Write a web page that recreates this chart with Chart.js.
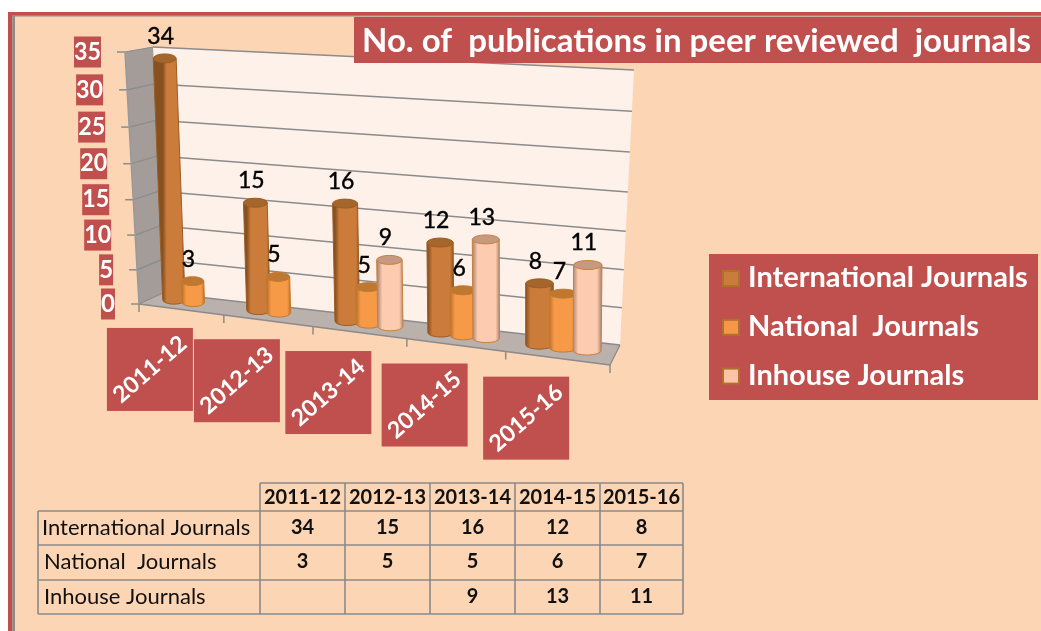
<!DOCTYPE html>
<html><head><meta charset="utf-8">
<style>html,body{margin:0;padding:0;background:#fff;overflow:hidden}canvas{display:block}</style>
<script src="https://cdn.jsdelivr.net/npm/chart.js@4"></script>
</head><body><canvas id="c" width="1041" height="631"></canvas>
<script>
const categories = ["2011-12","2012-13","2013-14","2014-15","2015-16"];
const international = [34,15,16,12,8];
const national = [3,5,5,6,7];
const inhouse = [null,null,9,13,11];
const seriesNames = ["International Journals","National  Journals","Inhouse Journals"];
const titleText = "No. of  publications in peer reviewed  journals";
const yMax = 35, yStep = 5;

const RED="#C0504D", PEACH="#FCD5B5", GRID="#8b8b8b";
const looks=[
 {edge:"#87501f",mid:"#CC7C3A",cap:"#A5662B",line:"#9c5c24",sw:"#C97D3C"},
 {edge:"#bd7028",mid:"#F79A48",cap:"#BF7830",line:"#c47a30",sw:"#F79646"},
 {edge:"#b08a74",mid:"#FDCBB0",cap:"#C69A82",line:"#C8803C",sw:"#FBC4A6"}
];
function quad(p00,p10,p11,p01){
  const [x0,y0]=p00,[x1,y1]=p10,[x2,y2]=p11,[x3,y3]=p01;
  const sx=x0-x1+x2-x3, sy=y0-y1+y2-y3, dx1=x1-x2, dx2=x3-x2, dy1=y1-y2, dy2=y3-y2;
  const d=dx1*dy2-dx2*dy1, g=(sx*dy2-dx2*sy)/d, h=(dx1*sy-sx*dy1)/d;
  const a=x1-x0+g*x1,b=x3-x0+h*x3,e=y1-y0+g*y1,f=y3-y0+h*y3;
  return (u,v)=>{const w=g*u+h*v+1;return [(a*u+b*v+x0)/w,(e*u+f*v+y0)/w];};
}
const lerp=(a,b,t)=>[a[0]+(b[0]-a[0])*t,a[1]+(b[1]-a[1])*t];
const barPlane=quad([152,297],[615,354],[618,74],[142,50]);
const FL=[139,304],FT=[125,52],BL=[163,293],BT=[153,47],RB=[620,345],RT=[634,70],FR=[610,365];
const warp=v=>v-0.06*v*(1-v);
const C=-0.121;
const front=u=>lerp(FL,FR,u*(1+C)/(1+C*u));

const rr=(ctx,x,y,w,h)=>{ctx.fillStyle=RED;ctx.fillRect(x,y,w,h);};
function poly(ctx,pts,fill){ctx.beginPath();pts.forEach((p,i)=>i?ctx.lineTo(p[0],p[1]):ctx.moveTo(p[0],p[1]));ctx.closePath();ctx.fillStyle=fill;ctx.fill();}
function seg(ctx,a,b,col,w){ctx.strokeStyle=col;ctx.lineWidth=w;ctx.beginPath();ctx.moveTo(a[0],a[1]);ctx.lineTo(b[0],b[1]);ctx.stroke();}
function uv(chart,x,y){const A=chart.chartArea;return [(x-A.left)/(A.right-A.left),(A.bottom-y)/(A.bottom-A.top)];}

function cylinder(ctx,chart,el,look){
  const [ul,vt]=uv(chart,el.x-el.width/2,el.y), [ur,vb]=uv(chart,el.x+el.width/2,el.base);
  const um=(ul+ur)/2;
  const tl=barPlane(ul,vt),tr=barPlane(ur,vt),bl=barPlane(ul,vb),br=barPlane(ur,vb);
  const rxT=(tr[0]-tl[0])/2, rxB=(br[0]-bl[0])/2, ry=4.5;
  const tc=barPlane(um,vt), bc=barPlane(um,vb);
  const g=ctx.createLinearGradient(bl[0],0,br[0],0);
  g.addColorStop(0,look.edge);g.addColorStop(.18,look.mid);g.addColorStop(.55,look.mid);g.addColorStop(.85,look.mid);g.addColorStop(1,look.edge);
  ctx.beginPath();
  ctx.moveTo(tc[0]-rxT,tc[1]);
  ctx.lineTo(bc[0]-rxB,bc[1]);
  ctx.ellipse(bc[0],bc[1],rxB,ry,0,Math.PI,0,true);
  ctx.lineTo(tc[0]+rxT,tc[1]);
  ctx.closePath();
  ctx.fillStyle=g;ctx.fill();ctx.strokeStyle=look.line;ctx.lineWidth=1;ctx.stroke();
  ctx.beginPath();ctx.ellipse(tc[0],tc[1],rxT,ry,0,0,Math.PI*2);
  ctx.fillStyle=look.cap;ctx.fill();ctx.strokeStyle=look.line;ctx.stroke();
  return tc;
}

const scene={
  id:"scene",
  beforeDraw(chart){
    const ctx=chart.ctx,W=chart.width,H=chart.height;
    ctx.save();
    ctx.fillStyle="#fff";ctx.fillRect(0,0,W,H);
    ctx.fillStyle=PEACH;ctx.fillRect(8,12,W-8,H-12);
    ctx.fillStyle=RED;ctx.fillRect(8,12,W-8,3);ctx.fillRect(8,12,4.5,H-12);
    ctx.fillStyle=GRID;ctx.fillRect(12,15,W-12,1.5);ctx.fillRect(12.5,15,2.5,H-15);
    // walls and floor
    poly(ctx,[BL,RB,RT,BT],"#FEF1E9");
    poly(ctx,[FL,BL,BT,FT],"#A39C98");
    poly(ctx,[FL,BL,RB,FR],"#BBB1AC");
    seg(ctx,FL,FR,GRID,1.6);
    const A=chart.chartArea,ys=chart.scales.y;
    ys.ticks.forEach(t=>{
      const v=warp((A.bottom-ys.getPixelForValue(t.value))/(A.bottom-A.top));
      const f=lerp(FL,FT,v),b=lerp(BL,BT,v),r=lerp(RB,RT,v);
      seg(ctx,[f[0]-8,f[1]],f,GRID,1.5);
      seg(ctx,f,b,GRID,1.2);
      seg(ctx,b,r,GRID,1.5);
    });
    seg(ctx,FL,FT,"#9a9a9a",1.5);
    const n=categories.length;
    for(let i=0;i<=n;i++){const p=front(i/n);seg(ctx,p,[p[0],p[1]+8],GRID,1.5);}
    seg(ctx,RB,FR,GRID,1.2);
    ctx.restore();
  },
  beforeDatasetsDraw(chart){
    const ctx=chart.ctx;ctx.save();
    const labels=[];
    categories.forEach((_,i)=>{
      chart.data.datasets.forEach((ds,k)=>{
        if(ds.data[i]==null)return;
        const el=chart.getDatasetMeta(k).data[i];
        const tc=cylinder(ctx,chart,el,looks[k]);
        labels.push([String(ds.data[i]),tc[0]-4,tc[1]-22]);
      });
    });
    ctx.fillStyle="#000";ctx.strokeStyle="#000";ctx.lineWidth=0.4;ctx.font="23px Lato";ctx.textAlign="center";ctx.textBaseline="middle";
    labels.forEach(l=>{ctx.fillText(l[0],l[1],l[2]);ctx.strokeText(l[0],l[1],l[2]);});
    ctx.restore();
    return false;
  },
  afterDraw(chart){
    const ctx=chart.ctx;ctx.save();
    const A=chart.chartArea,ys=chart.scales.y,xs=chart.scales.x;
    ctx.textBaseline="middle";
    // y ticks
    ctx.font="bold 24px Lato";ctx.textAlign="center";
    ys.ticks.forEach(t=>{
      const v=warp((A.bottom-ys.getPixelForValue(t.value))/(A.bottom-A.top));
      const f=lerp(FL,FT,v),s=String(t.value),w=s.length>1?27:14,right=f[0]-24;
      rr(ctx,right-w,f[1]-15.5,w,31);
      ctx.fillStyle="#fff";ctx.fillText(s,right-w/2,f[1],w);
    });
    // x ticks
    categories.forEach((c,i)=>{
      const u=(xs.getPixelForValue(i)-A.left)/(A.right-A.left),p=front(u);
      const cx=p[0]-31,cy=p[1]+60;
      rr(ctx,cx-43,cy-41.5,86,83);
      ctx.save();ctx.translate(cx,cy);ctx.rotate(-41*Math.PI/180);
      ctx.fillStyle="#fff";ctx.font="bold 23px Lato";ctx.fillText(c,0,0);ctx.restore();
    });
    // title
    rr(ctx,354,17,687,46);
    ctx.fillStyle="#fff";ctx.font="bold 33px Lato";ctx.textAlign="left";ctx.textBaseline="alphabetic";
    ctx.fillText(titleText,362,52,673);
    // legend
    rr(ctx,709,254,329,146);
    chart.data.datasets.forEach((ds,k)=>{
      const y=270+k*48.8;
      ctx.fillStyle="#B0702E";ctx.fillRect(722,y,18,17);
      ctx.fillStyle=looks[k].sw;ctx.fillRect(724,y+2,14,13);
      ctx.fillStyle="#fff";ctx.font="bold 29px Lato";ctx.fillText(ds.label,748,y+17,281);
    });
    // table
    const cols=[38,260,345,430,515,600,683],rows=[483,511,545,580,614];
    ctx.strokeStyle="#8a8a8a";ctx.lineWidth=1.6;ctx.beginPath();
    rows.forEach((y,i)=>{ctx.moveTo(i?38:260,y);ctx.lineTo(683,y);});
    cols.forEach((x,i)=>{ctx.moveTo(x,i?483:511);ctx.lineTo(x,614);});
    ctx.stroke();
    ctx.fillStyle="#111";ctx.textBaseline="middle";
    const ty=[498,528,562,597];
    ctx.textAlign="center";ctx.font="bold 20px Lato";
    categories.forEach((c,i)=>ctx.fillText(c,(cols[i+1]+cols[i+2])/2,ty[0],80));
    chart.data.datasets.forEach((ds,k)=>{
      ctx.textAlign="left";ctx.font="22px Lato";
      ctx.fillText(ds.label,k?44:42,ty[k+1],211);
      ctx.textAlign="center";ctx.font="bold 20px Lato";
      ds.data.forEach((d,i)=>{if(d!=null)ctx.fillText(String(d),(cols[i+1]+cols[i+2])/2,ty[k+1]);});
    });
    ctx.restore();
  }
};

new Chart(document.getElementById("c"),{
  type:"bar",
  data:{labels:categories,datasets:[international,national,inhouse].map((d,k)=>({
    label:seriesNames[k],data:d,backgroundColor:looks[k].sw,borderColor:looks[k].line,
    categoryPercentage:0.7,barPercentage:1.16
  }))},
  options:{
    responsive:false,animation:false,
    layout:{padding:{left:150,right:421,top:50,bottom:281}},
    plugins:{legend:{display:false},title:{display:false},tooltip:{enabled:false}},
    scales:{
      x:{display:false},
      y:{display:false,min:0,max:yMax,ticks:{stepSize:yStep}}
    }
  },
  plugins:[scene]
});
</script></body></html>
